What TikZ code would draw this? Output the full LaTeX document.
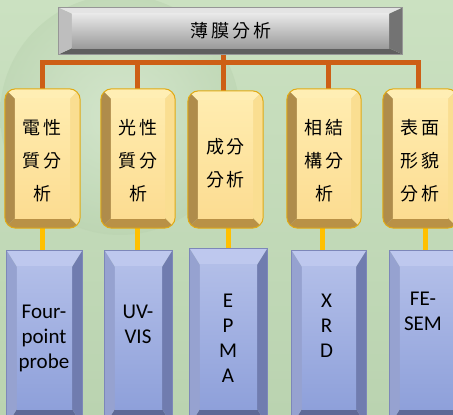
\documentclass[tikz,border=0pt]{standalone}
\usepackage{fontspec}
\setmainfont{Carlito}
\newfontfamily\cjk{Noto Sans CJK TC}
\usetikzlibrary{calc}
\definecolor{bgA}{RGB}{203,225,193}
\definecolor{bgB}{RGB}{186,211,176}
\definecolor{orangeln}{RGB}{205,95,22}
\definecolor{goldln}{RGB}{255,192,0}
\newcommand\cc{\kern3pt}
\newcommand\bevelit[4]{%
  \begin{scope}
  \clip[rounded corners=#4] (#1.south west) rectangle (#1.north east);
  \fill[fTop] (#1.north west) -- (#1.north east) -- ($(#1.north east)+(-#2,-#3)$) -- ($(#1.north west)+(#2,-#3)$) -- cycle;
  \fill[fBot] (#1.south west) -- (#1.south east) -- ($(#1.south east)+(-#2,#3)$) -- ($(#1.south west)+(#2,#3)$) -- cycle;
  \fill[fLeft] (#1.north west) -- ($(#1.north west)+(#2,-#3)$) -- ($(#1.south west)+(#2,#3)$) -- (#1.south west) -- cycle;
  \fill[fRight] (#1.north east) -- ($(#1.north east)+(-#2,-#3)$) -- ($(#1.south east)+(-#2,#3)$) -- (#1.south east) -- cycle;
  \shade[top color=faceA, middle color=faceM, bottom color=faceB] ($(#1.north west)+(#2,-#3)$) rectangle ($(#1.south east)+(-#2,#3)$);
  \end{scope}
  \draw[edge, line width=1pt, rounded corners=#4] (#1.south west) rectangle (#1.north east);
}
\newcommand\setgray{%
  \definecolor{fTop}{RGB}{228,228,228}\definecolor{fBot}{RGB}{95,95,95}%
  \definecolor{fLeft}{RGB}{190,190,190}\definecolor{fRight}{RGB}{115,115,115}%
  \definecolor{faceA}{RGB}{232,232,232}\definecolor{faceM}{RGB}{200,200,200}\definecolor{faceB}{RGB}{155,155,155}%
  \definecolor{edge}{RGB}{150,150,150}}
\newcommand\setyellow{%
  \definecolor{fTop}{RGB}{255,238,180}\definecolor{fBot}{RGB}{185,145,70}%
  \definecolor{fLeft}{RGB}{175,140,75}\definecolor{fRight}{RGB}{250,222,145}%
  \definecolor{faceA}{RGB}{255,236,175}\definecolor{faceM}{RGB}{255,229,160}\definecolor{faceB}{RGB}{252,220,145}%
  \definecolor{edge}{RGB}{225,170,20}}
\newcommand\setblue{%
  \definecolor{fTop}{RGB}{190,200,238}\definecolor{fBot}{RGB}{95,105,150}%
  \definecolor{fLeft}{RGB}{150,162,208}\definecolor{fRight}{RGB}{112,124,175}%
  \definecolor{faceA}{RGB}{178,190,232}\definecolor{faceM}{RGB}{160,174,226}\definecolor{faceB}{RGB}{142,160,218}%
  \definecolor{edge}{RGB}{125,135,185}}
\tikzset{
  shapebox/.style={rectangle, draw=none, inner sep=0pt},
  cjktext/.style={align=center, inner sep=0pt, font=\cjk\fontsize{18}{33}\selectfont, text=black},
  latintext/.style={align=center, inner sep=0pt, font=\fontsize{21}{25}\selectfont, text=black},
  orangewire/.style={draw=orangeln, line width=5pt},
  goldwire/.style={draw=goldln, line width=5pt}
}
\begin{document}
\begin{tikzpicture}[x=1pt,y=1pt]
\useasboundingbox (0,0) rectangle (453,415);
\clip (0,0) rectangle (453,415);
\shade[top color=bgA, bottom color=bgB] (0,0) rectangle (453,415);
\shade[inner color=bgA!60!white, outer color=bgB, opacity=0.5] (120,300) circle (120);
% geometry nodes
\node[shapebox, minimum width=343pt, minimum height=46pt] (top) at (230.5,384) {};
\node[shapebox, minimum width=75pt, minimum height=139pt] (y1) at (42.5,256.5) {};
\node[shapebox, minimum width=74pt, minimum height=139pt] (y2) at (138,256.5) {};
\node[shapebox, minimum width=75pt, minimum height=137pt] (y3) at (225.5,255.5) {};
\node[shapebox, minimum width=74pt, minimum height=139pt] (y4) at (324,256.5) {};
\node[shapebox, minimum width=75pt, minimum height=139pt] (y5) at (420.5,256.5) {};
\node[shapebox, minimum width=75pt, minimum height=174pt] (b1) at (44.5,77) {};
\node[shapebox, minimum width=67pt, minimum height=174pt] (b2) at (138.5,77) {};
\node[shapebox, minimum width=77pt, minimum height=176pt] (b3) at (228.5,78) {};
\node[shapebox, minimum width=74pt, minimum height=174pt] (b4) at (329,77) {};
\node[shapebox, minimum width=75pt, minimum height=174pt] (b5) at (427.5,77) {};
% connectors
\coordinate (bus) at (223,352);
\draw[orangewire] (bus |- top.south) -- (bus);
\draw[orangewire] (bus) -| ($(y1.north)+(0,-2)$);
\draw[orangewire] (bus) -| ($(y2.north)+(-1,-2)$);
\draw[orangewire] (bus) -- ($(bus |- y3.north)+(0,-2)$);
\draw[orangewire] (bus) -| ($(y4.north)+(4,-2)$);
\draw[orangewire] (bus) -| ($(y5.north)+(-2.5,-2)$);
\foreach \i/\dx in {1/0,2/-1,3/2.5,4/-2,5/4.5}{
  \draw[goldwire] ($(y\i.south)+(\dx,2)$) -- ($(y\i.south |- b\i.north)+(\dx,-2)$);
}
% boxes
\setgray\bevelit{top}{13}{6}{0pt}
\setyellow
\foreach \i in {1,...,5}{\bevelit{y\i}{10}{10}{11pt}}
\setblue
\foreach \i in {1,...,5}{\bevelit{b\i}{10}{16}{0pt}}
% texts
\node[cjktext] (ttop) at (231,384) {薄\cc 膜\cc 分\cc 析};
\node[cjktext] (t1) at (42.5,254) {電\cc 性\\質\cc 分\\析};
\node[cjktext] (t2) at (138,254) {光\cc 性\\質\cc 分\\析};
\node[cjktext] (t3) at (225.5,252) {成\cc 分\\分\cc 析};
\node[cjktext] (t4) at (324,254) {相\cc 結\\構\cc 分\\析};
\node[cjktext] (t5) at (420,254) {表\cc 面\\形\cc 貌\\分\cc 析};
\node[latintext] (l1) at (44,77) {Four-\\point\\probe};
\node[latintext] (l2) at (138,91) {UV-\\VIS};
\node[latintext] (l3) at (228,77) {E\\P\\M\\A};
\node[latintext] (l4) at (326.5,89) {X\\R\\D};
\node[latintext] (l5) at (423,104) {FE-\\SEM};
\end{tikzpicture}
\end{document}
